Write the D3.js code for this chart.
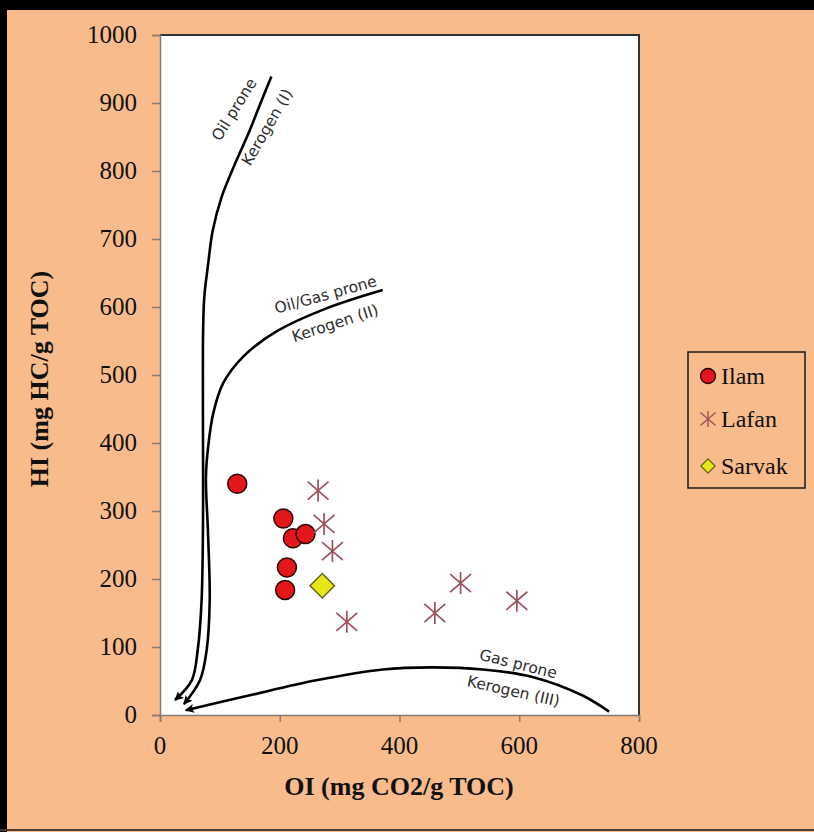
<!DOCTYPE html>
<html lang="en">
  <head>
    <meta charset="UTF-8" />
    <title>HI vs OI</title>
    <style>
      html, body { margin: 0; background: #f8bb8b; overflow: hidden; }
      svg { display: block; }
      .tick-label { font-family: "Liberation Serif", "Times New Roman", serif; font-size: 25px; fill: #111; }
      .title { font-family: "Liberation Serif", "Times New Roman", serif; font-size: 26px; font-weight: bold; fill: #111; }
      .legend-text { font-family: "Liberation Serif", "Times New Roman", serif; font-size: 24px; fill: #111; }
      .curve-label { font-family: "DejaVu Sans", Verdana, sans-serif; font-size: 15.5px; fill: #2e2e2e; }
    </style>
  </head>
  <body>
    <div class="chart"></div>

    <script src="https://d3js.org/d3.v7.min.js"></script>

    <script>
      // 座標軸刻度
      const xTicks = [0, 200, 400, 600, 800];
      const yTicks = [0, 100, 200, 300, 400, 500, 600, 700, 800, 900, 1000];

      // 樣本資料 (OI, HI)
      const ilamOI = [129, 206, 222, 243, 212, 209];
      const ilamHI = [340, 289, 260, 266, 217, 184];
      const lafanOI = [264, 274, 288, 312, 459, 502, 596];
      const lafanHI = [330, 281, 241, 137, 150, 194, 168];
      const sarvakOI = [271];
      const sarvakHI = [190];

      // 干酪根演化曲線
      const kerogen1OI = [186, 168, 150, 126, 103, 88, 80.5, 74, 72, 71.7, 72, 69.5, 63, 53, 25];
      const kerogen1HI = [939, 900, 860, 812, 762, 712, 664, 615, 566, 434, 316, 169, 96, 51, 22];
      const kerogen2OI = [372, 278, 194.5, 139, 105.5, 89, 80.5, 76.7, 80, 83, 78, 66.7, 40];
      const kerogen2HI = [625, 598, 564, 527, 488, 444, 395, 350, 272, 169, 96, 51, 16];
      const kerogen3OI = [750, 705, 622, 539, 455, 372, 261, 150, 43];
      const kerogen3HI = [5, 29, 56, 67, 70, 67, 51, 29, 7];

      const legendNames = ["Ilam", "Lafan", "Sarvak"];

      const zip = (xs, ys) => xs.map((x, i) => ({ x: x, y: ys[i] }));

      const w = 814;
      const h = 832;
      const svg = d3
        .select(".chart")
        .append("svg")
        .attr("width", w)
        .attr("height", h);

      // 背景與黑色邊框
      svg.append("rect").attr("width", w).attr("height", h).attr("fill", "#f8bb8b");
      svg.append("rect").attr("width", w).attr("height", 10).attr("fill", "#000");
      svg.append("rect").attr("width", 7).attr("height", h).attr("fill", "#000");
      svg.append("rect").attr("y", h - 3).attr("width", w).attr("height", 2).attr("fill", "#4a3a30");

      const xScale = d3.scaleLinear().domain([0, 800]).range([160, 639]);
      const yScale = d3.scaleLinear().domain([0, 1000]).range([715, 35]);

      // 繪圖區
      svg
        .append("rect")
        .attr("x", xScale(0))
        .attr("y", yScale(1000))
        .attr("width", xScale(800) - xScale(0))
        .attr("height", yScale(0) - yScale(1000))
        .attr("fill", "#fff");

      svg
        .append("path")
        .attr("d", `M${xScale(0)},${yScale(1000)}H${xScale(800)}V${yScale(0)}`)
        .attr("fill", "none")
        .attr("stroke", "#333")
        .attr("stroke-width", 2);

      // X 軸
      const xAxis = svg
        .append("g")
        .attr("transform", `translate(0, ${yScale(0)})`)
        .call(d3.axisBottom(xScale).tickValues(xTicks).tickSize(7).tickFormat(""));
      xAxis.selectAll("line, path").attr("stroke", "#8a7a70").attr("stroke-width", 1.5);

      svg
        .append("g")
        .selectAll("text")
        .data(xTicks)
        .enter()
        .append("text")
        .attr("class", "tick-label")
        .attr("x", (d) => xScale(d))
        .attr("y", 754)
        .attr("text-anchor", "middle")
        .text((d) => d);

      // Y 軸
      const yAxis = svg
        .append("g")
        .attr("transform", `translate(${xScale(0)}, 0)`)
        .call(d3.axisLeft(yScale).tickValues(yTicks).tickSize(8).tickFormat(""));
      yAxis.selectAll("line, path").attr("stroke", "#8a7a70").attr("stroke-width", 1.5);

      svg
        .append("g")
        .selectAll("text")
        .data(yTicks)
        .enter()
        .append("text")
        .attr("class", "tick-label")
        .attr("x", 137)
        .attr("y", (d) => yScale(d) + 8)
        .attr("text-anchor", "end")
        .text((d) => d);

      // 軸標題
      svg
        .append("text")
        .attr("class", "title")
        .attr("x", 399)
        .attr("y", 795)
        .attr("text-anchor", "middle")
        .text("OI (mg CO2/g TOC)");

      svg
        .append("text")
        .attr("class", "title")
        .attr("transform", "translate(48, 379) rotate(-90)")
        .attr("text-anchor", "middle")
        .text("HI (mg HC/g TOC)");

      // 箭頭
      svg
        .append("defs")
        .append("marker")
        .attr("id", "arrow")
        .attr("viewBox", "0 0 10 10")
        .attr("refX", 9)
        .attr("refY", 5)
        .attr("markerWidth", 13)
        .attr("markerHeight", 9)
        .attr("markerUnits", "userSpaceOnUse")
        .attr("orient", "auto")
        .append("path")
        .attr("d", "M0,0L10,5L0,10L2,5Z")
        .attr("fill", "#000");

      const line = d3
        .line()
        .x((d) => xScale(d.x))
        .y((d) => yScale(d.y))
        .curve(d3.curveCatmullRom.alpha(0.5));

      const curves = [
        zip(kerogen1OI, kerogen1HI),
        zip(kerogen2OI, kerogen2HI),
        zip(kerogen3OI, kerogen3HI),
      ];

      svg
        .append("g")
        .selectAll("path")
        .data(curves)
        .enter()
        .append("path")
        .attr("d", line)
        .attr("fill", "none")
        .attr("stroke", "#000")
        .attr("stroke-width", 2.6)
        .attr("marker-end", "url(#arrow)");

      // 曲線文字
      const curveLabels = [
        { text: "Oil prone", x: 125, y: 890, angle: -58 },
        { text: "Kerogen (I)", x: 180, y: 864, angle: -60 },
        { text: "Oil/Gas prone", x: 277, y: 617, angle: -15.5 },
        { text: "Kerogen (II)", x: 293, y: 575, angle: -18 },
        { text: "Gas prone", x: 598, y: 74, angle: 14 },
        { text: "Kerogen (III)", x: 590, y: 34, angle: 12.6 },
      ];

      svg
        .append("g")
        .selectAll("text")
        .data(curveLabels)
        .enter()
        .append("text")
        .attr("class", "curve-label")
        .attr("transform", (d) => `translate(${xScale(d.x)}, ${yScale(d.y)}) rotate(${d.angle})`)
        .attr("text-anchor", "middle")
        .attr("dominant-baseline", "middle")
        .text((d) => d.text);

      // 星號符號 (垂直線 + X)
      const starSymbol = {
        draw(context, size) {
          const r = Math.sqrt(size) / 2;
          context.moveTo(0, -r);
          context.lineTo(0, r);
          context.moveTo(-r * 0.95, -r * 0.82);
          context.lineTo(r * 0.95, r * 0.82);
          context.moveTo(-r * 0.95, r * 0.82);
          context.lineTo(r * 0.95, -r * 0.82);
        },
      };

      // Ilam
      svg
        .append("g")
        .selectAll("circle")
        .data(zip(ilamOI, ilamHI))
        .enter()
        .append("circle")
        .attr("cx", (d) => xScale(d.x))
        .attr("cy", (d) => yScale(d.y))
        .attr("r", 9.5)
        .attr("fill", "#e3161b")
        .attr("stroke", "#2a0505")
        .attr("stroke-width", 1.5);

      // Lafan
      svg
        .append("g")
        .selectAll("path")
        .data(zip(lafanOI, lafanHI))
        .enter()
        .append("path")
        .attr("transform", (d) => `translate(${xScale(d.x)}, ${yScale(d.y)})`)
        .attr("d", d3.symbol(starSymbol, 484))
        .attr("fill", "none")
        .attr("stroke", "#a0505a")
        .attr("stroke-width", 1.7);

      // Sarvak
      svg
        .append("g")
        .selectAll("path")
        .data(zip(sarvakOI, sarvakHI))
        .enter()
        .append("path")
        .attr("transform", (d) => `translate(${xScale(d.x)}, ${yScale(d.y)}) rotate(45)`)
        .attr("d", d3.symbol(d3.symbolSquare, 300))
        .attr("fill", "#e6e61a")
        .attr("stroke", "#66661a")
        .attr("stroke-width", 1.5);

      // 圖例
      const legend = svg.append("g").attr("transform", "translate(688, 352)");
      legend
        .append("rect")
        .attr("width", 117)
        .attr("height", 136)
        .attr("fill", "none")
        .attr("stroke", "#1a1a1a")
        .attr("stroke-width", 1.5);

      const rowY = [24, 67, 114];
      legend
        .append("circle")
        .attr("cx", 20)
        .attr("cy", rowY[0])
        .attr("r", 7.5)
        .attr("fill", "#e3161b")
        .attr("stroke", "#2a0505")
        .attr("stroke-width", 1.3);
      legend
        .append("path")
        .attr("transform", `translate(20, ${rowY[1]})`)
        .attr("d", d3.symbol(starSymbol, 256))
        .attr("fill", "none")
        .attr("stroke", "#a0505a")
        .attr("stroke-width", 1.4);
      legend
        .append("path")
        .attr("transform", `translate(20, ${rowY[2]}) rotate(45)`)
        .attr("d", d3.symbol(d3.symbolSquare, 100))
        .attr("fill", "#e6e61a")
        .attr("stroke", "#66661a")
        .attr("stroke-width", 1.3);

      legend
        .selectAll("text")
        .data(legendNames)
        .enter()
        .append("text")
        .attr("class", "legend-text")
        .attr("x", 33)
        .attr("y", (d, i) => rowY[i] + 8)
        .text((d) => d);
    </script>
  </body>
</html>
